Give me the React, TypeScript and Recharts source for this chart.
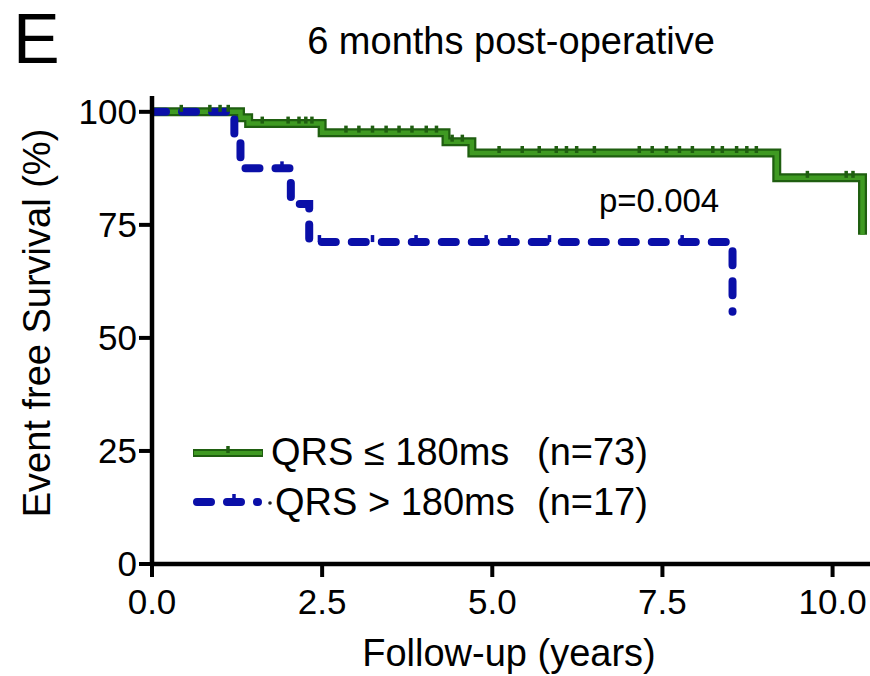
import React from 'react';
import { ComposedChart, Line, Scatter, XAxis, YAxis, Customized } from 'recharts';

// Kaplan-Meier step points (time in years, event free survival in %)
const greenTimes = [0, 1.3, 1.42, 2.5, 4.32, 4.7, 9.18, 10.44];
const greenSurvival = [100, 98.7, 97.4, 95.4, 93.4, 90.9, 85.4, 72.8];
const blueTimes = [0, 1.21, 1.3, 2.04, 2.31, 8.53];
const blueSurvival = [100, 94, 87.5, 79.6, 71.2, 55.8];

// Censored observations
const greenCensorTimes = [
  0.43, 0.85, 1.0, 1.12,
  1.62, 2.0, 2.16, 2.26, 2.35,
  2.85, 3.04, 3.24, 3.44, 3.63, 3.82, 4.03, 4.18,
  4.41, 4.56,
  5.1, 5.44, 5.69, 5.94, 6.09, 6.24, 6.5, 7.16, 7.35, 7.56, 7.75, 7.94, 8.24, 8.38, 8.59, 8.74, 8.88,
  9.63, 10.2, 10.3,
];
const greenCensorSurvival = [
  100, 100, 100, 100,
  97.4, 97.4, 97.4, 97.4, 97.4,
  95.4, 95.4, 95.4, 95.4, 95.4, 95.4, 95.4, 95.4,
  93.4, 93.4,
  90.9, 90.9, 90.9, 90.9, 90.9, 90.9, 90.9, 90.9, 90.9, 90.9, 90.9, 90.9, 90.9, 90.9, 90.9, 90.9, 90.9,
  85.4, 85.4, 85.4,
];
const blueCensorTimes = [1.91, 2.46, 3.24, 3.88, 4.91, 5.25, 5.84, 7.79];
const blueCensorSurvival = [87.5, 71.2, 71.2, 71.2, 71.2, 71.2, 71.2, 71.2];

const xTicks = [0, 2.5, 5, 7.5, 10];
const yTicks = [0, 25, 50, 75, 100];

const groupLabels = ['QRS \u2264 180ms', 'QRS > 180ms'];
const groupCounts = ['(n=73)', '(n=17)'];
const pValueText = 'p=0.004';
const titleText = '6 months post-operative';
const panelLetter = 'E';
const xTitle = 'Follow-up (years)';
const yTitle = 'Event free Survival (%)';

const toPoints = (ts: number[], vs: number[]) => ts.map((t, i) => ({ t, s: vs[i] }));

const greenData = toPoints(greenTimes, greenSurvival);
const blueData = toPoints(blueTimes, blueSurvival);
const greenCensor = toPoints(greenCensorTimes, greenCensorSurvival);
const blueCensor = toPoints(blueCensorTimes, blueCensorSurvival);

const FONT = '"Liberation Sans", Arial, Helvetica, sans-serif';
const GREEN_DARK = '#1f5e10';
const GREEN = '#3f9a22';
const BLUE = '#0a0fa8';

const censorMark = (color: string) => (props: any) => {
  const { cx, cy } = props;
  if (cx == null || cy == null) return <g />;
  return <line x1={cx} x2={cx} y1={cy} y2={cy - 7} stroke={color} strokeWidth={3.5} />;
};

const Overlay = () => (
  <g fontFamily={FONT} fill="#000">
    <text x={13} y={63} fontSize={70}>{panelLetter}</text>
    <text x={511} y={54} fontSize={38} textAnchor="middle">{titleText}</text>
    <text x={509} y={666} fontSize={38} textAnchor="middle">{xTitle}</text>
    <text
      x={50}
      y={323}
      fontSize={38}
      textAnchor="middle"
      transform="rotate(-90, 50, 323)"
    >
      {yTitle}
    </text>
    <text x={599} y={212} fontSize={33}>{pValueText}</text>

    {/* legend: solid green entry */}
    <line x1={193} x2={263} y1={453} y2={453} stroke={GREEN_DARK} strokeWidth={8} />
    <line x1={194} x2={262} y1={453} y2={453} stroke={GREEN} strokeWidth={4} />
    <line x1={228} x2={228} y1={453} y2={446} stroke={GREEN_DARK} strokeWidth={3.5} />
    <text x={271} y={465} fontSize={38}>{groupLabels[0]}</text>
    <text x={537} y={465} fontSize={38}>{groupCounts[0]}</text>

    {/* legend: dashed blue entry */}
    <line x1={197} x2={258} y1={502} y2={502} stroke={BLUE} strokeWidth={8} strokeDasharray="14 16" strokeLinecap="round" />
    <line x1={234} x2={234} y1={502} y2={494} stroke={BLUE} strokeWidth={3.5} />
    <circle cx={270} cy={503} r={1.8} fill="#222" />
    <text x={275} y={515} fontSize={38}>{groupLabels[1]}</text>
    <text x={537} y={515} fontSize={38}>{groupCounts[1]}</text>
  </g>
);

export default function App() {
  return (
    <div style={{ position: 'absolute', left: 0, top: 0, width: 870, height: 676, background: '#fff' }}>
      <ComposedChart
        width={870}
        height={676}
        margin={{ top: 96, right: 0, bottom: 62, left: 92 }}
      >
        <XAxis
          type="number"
          dataKey="t"
          domain={[0, 10.55]}
          ticks={xTicks}
          tickFormatter={(v: number) => v.toFixed(1)}
          allowDataOverflow
          height={50}
          stroke="#000"
          strokeWidth={4.5}
          tickSize={13}
          tickMargin={12}
          tick={{ fontSize: 35, fill: '#000', fontFamily: FONT }}
          tickLine={{ stroke: '#000', strokeWidth: 4 }}
        />
        <YAxis
          type="number"
          dataKey="s"
          domain={[0, 103.5]}
          ticks={yTicks}
          allowDataOverflow
          width={60}
          stroke="#000"
          strokeWidth={4.5}
          tickSize={13}
          tickMargin={2}
          tick={{ fontSize: 35, fill: '#000', fontFamily: FONT }}
          tickLine={{ stroke: '#000', strokeWidth: 4 }}
        />
        <Line
          data={greenData}
          dataKey="s"
          type="stepAfter"
          stroke={GREEN_DARK}
          strokeWidth={9}
          dot={false}
          activeDot={false}
          isAnimationActive={false}
        />
        <Line
          data={greenData}
          dataKey="s"
          type="stepAfter"
          stroke={GREEN}
          strokeWidth={4.5}
          dot={false}
          activeDot={false}
          isAnimationActive={false}
        />
        <Scatter
          data={greenCensor}
          dataKey="s"
          shape={censorMark(GREEN_DARK)}
          isAnimationActive={false}
        />
        <Line
          data={blueData}
          dataKey="s"
          type="stepAfter"
          stroke={BLUE}
          strokeWidth={8}
          strokeDasharray="14 16"
          strokeLinecap="round"
          dot={false}
          activeDot={false}
          isAnimationActive={false}
        />
        <Scatter
          data={blueCensor}
          dataKey="s"
          shape={censorMark(BLUE)}
          isAnimationActive={false}
        />
        <Customized component={Overlay} />
      </ComposedChart>
    </div>
  );
}
